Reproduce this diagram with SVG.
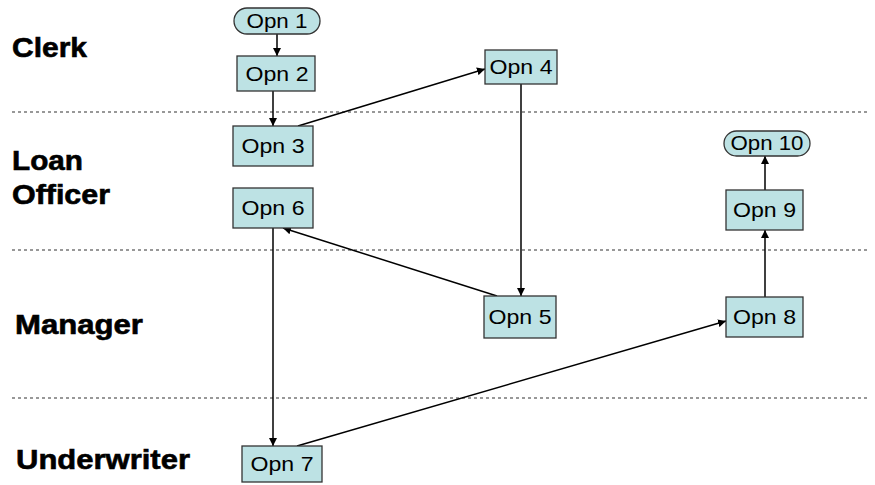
<svg xmlns="http://www.w3.org/2000/svg" width="875" height="485" viewBox="0 0 875 485">
<style>
.node{fill:#bde2e4;stroke:#333;stroke-width:1.3}
.nt{font-family:"Liberation Sans",Arial,sans-serif;font-size:21px;fill:#000;text-anchor:middle}
.lane{font-family:"Liberation Sans",Arial,sans-serif;font-size:27px;font-weight:bold;fill:#000;stroke:#000;stroke-width:0.6}
.dash{stroke:#333;stroke-width:1.2;stroke-dasharray:3,3;fill:none}
.c{stroke:#000;stroke-width:1.5;fill:none;marker-end:url(#ah)}
</style>
<defs>
<marker id="ah" viewBox="0 0 10 10" refX="10" refY="5" markerWidth="8" markerHeight="8" markerUnits="userSpaceOnUse" orient="auto">
<path d="M0,0 L10,5 L0,10 z" fill="#000"/>
</marker>
</defs>
<rect width="875" height="485" fill="#fff"/>
<g id="lanes">
<line class="dash" x1="12" y1="112" x2="868" y2="112"/>
<line class="dash" x1="12" y1="250" x2="868" y2="250"/>
<line class="dash" x1="12" y1="398" x2="868" y2="398"/>
<text class="lane" x="12" y="57" textLength="75" lengthAdjust="spacingAndGlyphs">Clerk</text>
<text class="lane" x="12" y="170" textLength="71" lengthAdjust="spacingAndGlyphs">Loan</text>
<text class="lane" x="12" y="204" textLength="98" lengthAdjust="spacingAndGlyphs">Officer</text>
<text class="lane" x="15" y="334" textLength="128" lengthAdjust="spacingAndGlyphs">Manager</text>
<text class="lane" x="16" y="469" textLength="174" lengthAdjust="spacingAndGlyphs">Underwriter</text>
</g>
<g id="connectors">
<line class="c" x1="277" y1="34" x2="277" y2="56"/>
<line class="c" x1="273" y1="91" x2="273" y2="126"/>
<line class="c" x1="298" y1="126" x2="485" y2="69"/>
<line class="c" x1="521" y1="84" x2="521" y2="296"/>
<line class="c" x1="497" y1="296" x2="283" y2="228"/>
<line class="c" x1="273" y1="228" x2="273" y2="446"/>
<line class="c" x1="297" y1="446" x2="726" y2="321"/>
<line class="c" x1="765" y1="297" x2="765" y2="230"/>
<line class="c" x1="765" y1="190" x2="765" y2="156"/>
</g>
<g id="opn1"><rect class="node" x="234" y="8" width="86" height="26" rx="13"/><text class="nt" x="277" y="28" textLength="61" lengthAdjust="spacingAndGlyphs">Opn 1</text></g>
<g id="opn2"><rect class="node" x="237" y="56" width="78" height="35"/><text class="nt" x="277" y="81" textLength="63" lengthAdjust="spacingAndGlyphs">Opn 2</text></g>
<g id="opn3"><rect class="node" x="233" y="126" width="80" height="40"/><text class="nt" x="273" y="153" textLength="63" lengthAdjust="spacingAndGlyphs">Opn 3</text></g>
<g id="opn4"><rect class="node" x="485" y="50" width="72" height="34"/><text class="nt" x="521" y="74" textLength="63" lengthAdjust="spacingAndGlyphs">Opn 4</text></g>
<g id="opn5"><rect class="node" x="484" y="296" width="72" height="42"/><text class="nt" x="520" y="324" textLength="63" lengthAdjust="spacingAndGlyphs">Opn 5</text></g>
<g id="opn6"><rect class="node" x="233" y="188" width="80" height="40"/><text class="nt" x="273" y="215" textLength="63" lengthAdjust="spacingAndGlyphs">Opn 6</text></g>
<g id="opn7"><rect class="node" x="242" y="446" width="80" height="36"/><text class="nt" x="282" y="471" textLength="63" lengthAdjust="spacingAndGlyphs">Opn 7</text></g>
<g id="opn8"><rect class="node" x="726" y="297" width="77" height="40"/><text class="nt" x="764.5" y="324" textLength="63" lengthAdjust="spacingAndGlyphs">Opn 8</text></g>
<g id="opn9"><rect class="node" x="726" y="190" width="77" height="40"/><text class="nt" x="764.5" y="217" textLength="63" lengthAdjust="spacingAndGlyphs">Opn 9</text></g>
<g id="opn10"><rect class="node" x="724" y="131" width="86" height="25" rx="12.5"/><text class="nt" x="767" y="150" textLength="73" lengthAdjust="spacingAndGlyphs">Opn 10</text></g>
</svg>
